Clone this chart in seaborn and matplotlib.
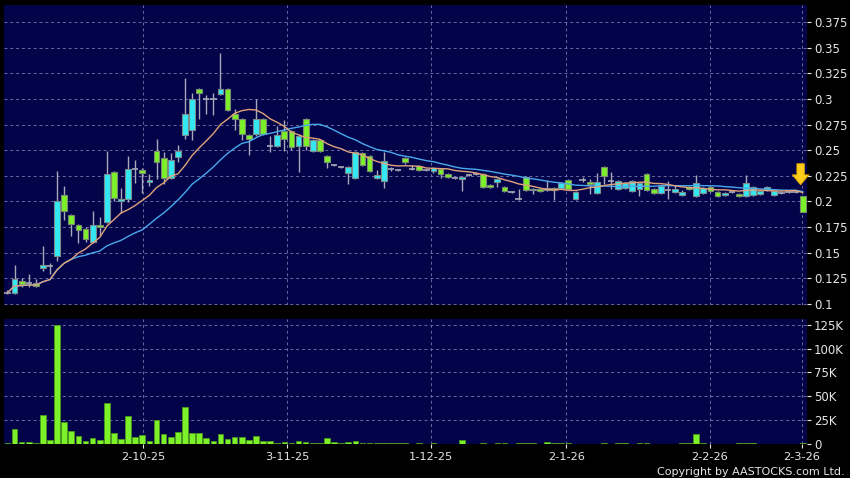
import numpy as np
import pandas as pd
import matplotlib
matplotlib.use("Agg")
import matplotlib.pyplot as plt
from matplotlib.ticker import FuncFormatter, FixedLocator
import seaborn as sns

# Daily OHLC (one entry per candle, oldest first)
opens = [0.111, 0.111, 0.122, 0.120, 0.120, 0.135, 0.137, 0.147, 0.206, 0.187,
         0.177, 0.173, 0.160, 0.177, 0.180, 0.229, 0.200, 0.202, 0.232, 0.231,
         0.219, 0.249, 0.242, 0.223, 0.243, 0.265, 0.270, 0.310, 0.300, 0.300,
         0.305, 0.310, 0.285, 0.280, 0.265, 0.266, 0.280, 0.254, 0.254, 0.269,
         0.269, 0.254, 0.280, 0.249, 0.260, 0.244, 0.236, 0.234, 0.228, 0.223,
         0.247, 0.244, 0.223, 0.220, 0.232, 0.231, 0.242, 0.232, 0.235, 0.231,
         0.230, 0.232, 0.227, 0.223, 0.222, 0.226, 0.227, 0.227, 0.216, 0.219,
         0.214, 0.209, 0.202, 0.224, 0.211, 0.212, 0.211, 0.213, 0.213, 0.221,
         0.202, 0.221, 0.219, 0.208, 0.234, 0.220, 0.212, 0.213, 0.210, 0.212,
         0.227, 0.212, 0.208, 0.211, 0.209, 0.206, 0.214, 0.205, 0.208, 0.214,
         0.209, 0.206, 0.209, 0.207, 0.205, 0.206, 0.207, 0.211, 0.206, 0.208,
         0.209, 0.209, 0.205]
highs = [0.114, 0.138, 0.125, 0.129, 0.124, 0.157, 0.140, 0.230, 0.215, 0.188,
         0.178, 0.175, 0.191, 0.185, 0.249, 0.230, 0.213, 0.244, 0.240, 0.233,
         0.227, 0.261, 0.248, 0.247, 0.255, 0.320, 0.306, 0.311, 0.304, 0.306,
         0.345, 0.311, 0.290, 0.281, 0.266, 0.300, 0.281, 0.264, 0.274, 0.279,
         0.270, 0.266, 0.281, 0.261, 0.261, 0.245, 0.237, 0.235, 0.235, 0.249,
         0.248, 0.245, 0.231, 0.248, 0.234, 0.232, 0.243, 0.236, 0.236, 0.232,
         0.234, 0.233, 0.228, 0.224, 0.225, 0.227, 0.228, 0.228, 0.217, 0.223,
         0.215, 0.210, 0.212, 0.225, 0.213, 0.213, 0.221, 0.214, 0.219, 0.222,
         0.210, 0.224, 0.222, 0.228, 0.235, 0.229, 0.221, 0.219, 0.221, 0.219,
         0.228, 0.213, 0.215, 0.220, 0.216, 0.211, 0.215, 0.226, 0.214, 0.215,
         0.210, 0.209, 0.210, 0.208, 0.226, 0.215, 0.211, 0.215, 0.211, 0.209,
         0.210, 0.210, 0.205]
lows = [0.110, 0.110, 0.117, 0.117, 0.117, 0.132, 0.129, 0.142, 0.182, 0.166,
        0.159, 0.160, 0.159, 0.166, 0.179, 0.200, 0.189, 0.199, 0.218, 0.208,
        0.215, 0.222, 0.217, 0.222, 0.238, 0.261, 0.260, 0.280, 0.285, 0.284,
        0.304, 0.288, 0.270, 0.260, 0.245, 0.264, 0.265, 0.248, 0.253, 0.249,
        0.250, 0.229, 0.250, 0.248, 0.248, 0.233, 0.235, 0.233, 0.217, 0.222,
        0.235, 0.229, 0.222, 0.213, 0.230, 0.230, 0.237, 0.231, 0.230, 0.230,
        0.228, 0.223, 0.223, 0.222, 0.210, 0.225, 0.226, 0.213, 0.213, 0.214,
        0.209, 0.208, 0.201, 0.210, 0.207, 0.209, 0.210, 0.201, 0.212, 0.211,
        0.201, 0.219, 0.207, 0.207, 0.217, 0.212, 0.211, 0.212, 0.209, 0.205,
        0.210, 0.207, 0.207, 0.202, 0.208, 0.205, 0.211, 0.204, 0.207, 0.209,
        0.204, 0.205, 0.208, 0.204, 0.204, 0.205, 0.206, 0.210, 0.205, 0.207,
        0.208, 0.208, 0.190]
closes = [0.111, 0.124, 0.119, 0.120, 0.118, 0.138, 0.137, 0.200, 0.191, 0.178,
          0.172, 0.163, 0.177, 0.175, 0.227, 0.203, 0.202, 0.232, 0.232, 0.228,
          0.221, 0.238, 0.223, 0.240, 0.249, 0.285, 0.300, 0.306, 0.300, 0.300,
          0.310, 0.289, 0.280, 0.266, 0.261, 0.280, 0.266, 0.254, 0.265, 0.261,
          0.253, 0.264, 0.254, 0.260, 0.249, 0.238, 0.236, 0.234, 0.234, 0.248,
          0.236, 0.230, 0.226, 0.239, 0.232, 0.231, 0.238, 0.232, 0.231, 0.231,
          0.233, 0.227, 0.224, 0.223, 0.224, 0.226, 0.227, 0.214, 0.214, 0.222,
          0.210, 0.209, 0.202, 0.211, 0.212, 0.210, 0.213, 0.211, 0.218, 0.212,
          0.209, 0.221, 0.217, 0.219, 0.225, 0.220, 0.220, 0.218, 0.220, 0.218,
          0.211, 0.208, 0.215, 0.211, 0.212, 0.209, 0.212, 0.218, 0.213, 0.210,
          0.205, 0.208, 0.209, 0.205, 0.218, 0.214, 0.210, 0.214, 0.210, 0.208,
          0.209, 0.209, 0.190]
# Volume in thousands of shares
volume_k = [0.7, 15.1, 1.4, 1.4, 0.7, 29.8, 4.2, 124.6, 22.5, 13.3,
            8.1, 2.8, 6.0, 3.9, 43.2, 10.9, 4.9, 29.1, 7.0, 8.8,
            2.8, 25.3, 9.8, 6.7, 11.9, 39.0, 11.2, 10.9, 5.6, 2.8,
            10.5, 5.3, 7.4, 7.0, 3.5, 7.7, 2.8, 3.2, 0.7, 1.4,
            0.7, 2.5, 1.4, 0.7, 0.7, 5.6, 2.1, 0.7, 2.1, 3.2,
            0.4, 0.4, 1.0, 1.0, 0.7, 0.3, 0.3, 0.2, 0.3, 0.2,
            0.3, 0.2, 0.2, 0.2, 3.5, 0.2, 0.2, 0.3, 0.2, 0.7,
            0.7, 0.2, 0.7, 0.3, 0.7, 0.2, 1.4, 0.3, 1.0, 0.3,
            0.2, 0.2, 0.2, 0.2, 0.7, 0.2, 0.7, 0.7, 0.2, 0.5,
            0.5, 0.2, 0.2, 0.2, 0.2, 0.7, 0.5, 10.5, 0.3, 0.2,
            0.2, 0.2, 0.2, 1.0, 0.3, 0.3, 0.2, 0.2, 0.2, 0.2,
            0.1, 0.1, 0.3]

date_labels = ["2-10-25", "3-11-25", "1-12-25", "2-1-26", "2-2-26", "2-3-26"]
date_pos = [19.1, 39.4, 59.7, 78.7, 98.9, 111.9]
price_ticks = [0.1, 0.125, 0.15, 0.175, 0.2, 0.225, 0.25, 0.275, 0.3, 0.325, 0.35, 0.375]
vol_ticks_k = [0, 25, 50, 75, 100, 125]

df = pd.DataFrame({"o": opens, "h": highs, "l": lows, "c": closes, "vol": volume_k})
df["idx"] = np.arange(len(df))
df["ma10"] = df["c"].rolling(10, min_periods=1).mean()
df["ma20"] = df["c"].rolling(20, min_periods=1).mean()

BG = "#03034a"
CYAN = "#33e8f2"
GREEN = "#7cf028"
GRID = "#6a6aa0"
TXT = "#e6e6e6"

plt.rcParams["font.family"] = ["DejaVu Sans"]

fig = plt.figure(figsize=(8.5, 4.78), dpi=100, facecolor="black")
ax = fig.add_axes([4 / 850, 1 - 305 / 478, 803 / 850, 300 / 478])
axv = fig.add_axes([4 / 850, 1 - 444 / 478, 803 / 850, 125 / 478])

for a in (ax, axv):
    a.set_facecolor(BG)
    for s in a.spines.values():
        s.set_visible(False)
    a.set_xlim(-0.48, 112.6)
    a.xaxis.set_major_locator(FixedLocator(date_pos))
    a.grid(True, color=GRID, linestyle=(0, (3, 3)), linewidth=0.7)
    a.set_axisbelow(True)
    a.yaxis.tick_right()
    a.tick_params(axis="y", colors=TXT, labelsize=8.5, length=3, width=0.8, pad=2)

# candles: wicks, then bodies
ax.vlines(df["idx"], df["l"], df["h"], color="#a8a8b8", linewidth=1, zorder=2)
up = df[df["c"] > df["o"]]
down = df[df["c"] < df["o"]]
flat = df[df["c"] == df["o"]]
ax.bar(up["idx"], up["c"] - up["o"], bottom=up["o"], width=0.82,
       color=CYAN, edgecolor="#7a8c8c", linewidth=0.8, zorder=3)
ax.bar(down["idx"], down["o"] - down["c"], bottom=down["c"], width=0.82,
       color=GREEN, edgecolor="#7a8c70", linewidth=0.8, zorder=3)
ax.hlines(flat["c"], flat["idx"] - 0.45, flat["idx"] + 0.45, color="#a8a8b8",
          linewidth=1.2, zorder=3)

# moving averages
sns.lineplot(data=df, x="idx", y="ma20", ax=ax, color="#4aa8ec", linewidth=1, zorder=4)
sns.lineplot(data=df, x="idx", y="ma10", ax=ax, color="#e0a27a", linewidth=1, zorder=4)

ax.set_ylim(0.099, 0.3916)
ax.yaxis.set_major_locator(FixedLocator(price_ticks))
ax.yaxis.set_major_formatter(FuncFormatter(lambda v, _: f"{v:g}"))
ax.tick_params(axis="x", length=0, labelbottom=False)
ax.set_xlabel("")
ax.set_ylabel("")

# arrow marking the latest candle
ax.annotate("", xy=(111.7, 0.2135), xytext=(111.7, 0.2395),
            arrowprops=dict(arrowstyle="simple,head_length=0.6,head_width=1.0,tail_width=0.45",
                            mutation_scale=12, fc="#ffcc1a", ec="#d9a000", lw=0.6),
            zorder=6)

# volume
sns.barplot(data=df, x="idx", y="vol", ax=axv, native_scale=True, width=0.8,
            color=GREEN, edgecolor="#4c9a1a", linewidth=0.6, saturation=1, zorder=3)
axv.set_xlim(-0.48, 112.6)
axv.set_ylim(-0.3, 131)
axv.yaxis.set_major_locator(FixedLocator(vol_ticks_k))
axv.yaxis.set_major_formatter(FuncFormatter(lambda v, _: "0" if v == 0 else f"{v:.0f}K"))
axv.xaxis.set_major_locator(FixedLocator(date_pos))
axv.set_xticklabels(date_labels)
axv.tick_params(axis="x", colors=TXT, labelsize=8.2, length=3, width=0.8, pad=3)
axv.set_xlabel("")
axv.set_ylabel("")

fig.text(845 / 850, 1 - 472 / 478, "Copyright by AASTOCKS.com Ltd.", ha="right",
         va="center", color=TXT, fontsize=8)

fig.savefig("out.png", dpi=100, facecolor="black")
